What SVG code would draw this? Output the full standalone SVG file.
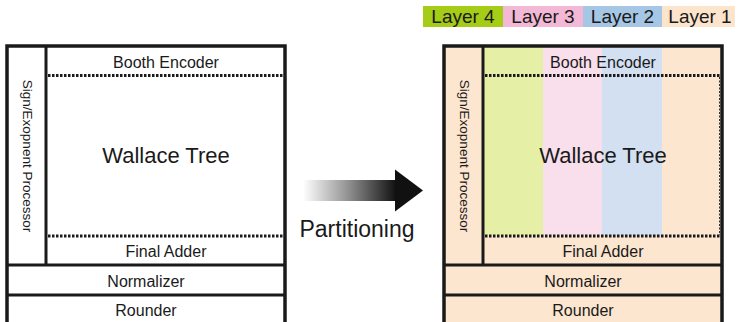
<svg xmlns="http://www.w3.org/2000/svg" width="740" height="322" viewBox="0 0 740 322">
<defs>
<linearGradient id="arrowGrad" x1="0" y1="0" x2="1" y2="0">
<stop offset="0" stop-color="#ffffff"/>
<stop offset="0.45" stop-color="#9a9a9a"/>
<stop offset="1" stop-color="#111111"/>
</linearGradient>
<style>
text{font-family:"Liberation Sans",Arial,sans-serif;fill:#1a1a1a}
.lbl{font-size:16px;text-anchor:middle}
.big{font-size:22px;text-anchor:middle}
.side{font-size:13.5px;text-anchor:middle}
.leg{font-size:19px;text-anchor:middle}
.box{fill:none;stroke:#1a1a1a;stroke-width:3.5}
.sep{stroke:#1a1a1a;stroke-width:3}
.dot{stroke:#1a1a1a;stroke-width:3;stroke-dasharray:2.5 1.5}
.peach{fill:#fde6d0}
</style>
</defs>
<rect width="740" height="322" fill="#ffffff"/>

<g id="legend">
<rect x="423" y="6" width="80" height="21" fill="#a5cc17"/>
<rect x="503" y="6" width="80" height="21" fill="#f3b8d6"/>
<rect x="583" y="6" width="79" height="21" fill="#a5c6e4"/>
<rect x="662" y="6" width="73" height="21" fill="#fde4cc"/>
<text class="leg" x="463" y="23">Layer 4</text>
<text class="leg" x="543" y="23">Layer 3</text>
<text class="leg" x="622.5" y="23">Layer 2</text>
<text class="leg" x="700" y="23">Layer 1</text>
</g>

<g id="left-multiplier">
<rect x="7" y="46" width="278" height="290" fill="#ffffff"/>
<line class="dot" x1="48" y1="75.5" x2="283" y2="75.5"/>
<line class="dot" x1="48" y1="236" x2="283" y2="236"/>
<line class="sep" x1="46" y1="46" x2="46" y2="265"/>
<line class="sep" x1="7" y1="265" x2="285" y2="265"/>
<line class="sep" x1="7" y1="295" x2="285" y2="295"/>
<rect class="box" x="7" y="46" width="278" height="290"/>
<text class="lbl" x="166" y="67.5">Booth Encoder</text>
<text class="big" x="166" y="163">Wallace Tree</text>
<text class="lbl" x="166" y="257">Final Adder</text>
<text class="lbl" x="146" y="287">Normalizer</text>
<text class="lbl" x="146" y="316">Rounder</text>
<text class="side" transform="translate(22.5,156) rotate(90)">Sign/Exopnent Processor</text>
</g>

<g id="arrow">
<rect x="303" y="180" width="93" height="21" fill="url(#arrowGrad)"/>
<polygon points="395,169.5 423,190.5 395,211.5" fill="#111111"/>
<text x="357" y="237" style="font-size:23px;text-anchor:middle">Partitioning</text>
</g>

<g id="right-multiplier">
<rect class="peach" x="444" y="46" width="278" height="290"/>
<rect x="484" y="47" width="59" height="189" fill="#e5f0a6"/>
<rect x="543" y="47" width="59" height="189" fill="#f9deec"/>
<rect x="602" y="47" width="60" height="189" fill="#d3e0f1"/>
<line x1="719.5" y1="77" x2="719.5" y2="235" stroke="#333" stroke-width="1" stroke-dasharray="2 1.5"/>
<line class="dot" x1="485" y1="75.5" x2="720" y2="75.5"/>
<line class="dot" x1="485" y1="236" x2="720" y2="236"/>
<line class="sep" x1="483" y1="46" x2="483" y2="265"/>
<line class="sep" x1="444" y1="265" x2="722" y2="265"/>
<line class="sep" x1="444" y1="295" x2="722" y2="295"/>
<rect class="box" x="444" y="46" width="278" height="290"/>
<text class="lbl" x="603" y="67.5">Booth Encoder</text>
<text class="big" x="603" y="163">Wallace Tree</text>
<text class="lbl" x="603" y="257">Final Adder</text>
<text class="lbl" x="583" y="287">Normalizer</text>
<text class="lbl" x="583" y="316">Rounder</text>
<text class="side" transform="translate(459.5,156) rotate(90)">Sign/Exopnent Processor</text>
</g>
</svg>
